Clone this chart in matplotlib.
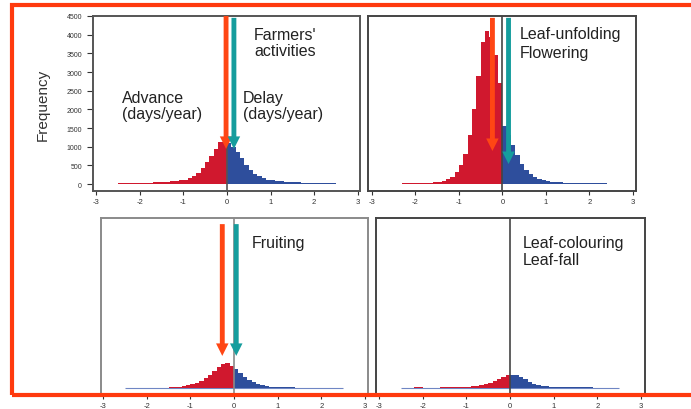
import numpy as np
import matplotlib
matplotlib.use("Agg")
import matplotlib.pyplot as plt
from matplotlib.patches import Rectangle

plt.rcParams['font.family'] = ['Liberation Sans', 'DejaVu Sans']

# bin centres (width 0.1) from -2.45 to 2.45
bin_centers = [round(-2.45 + 0.1 * i, 2) for i in range(50)]

farmers = [20, 25, 25, 30, 30, 35, 35, 40, 45, 50, 55, 60, 70, 80, 95, 120, 160, 220, 300, 420, 580, 760, 950, 1130, 1220,
           1100, 980, 860, 700, 520, 380, 280, 210, 160, 120, 95, 80, 70, 60, 55, 50, 45, 40, 40, 35, 35, 30, 30, 25, 20]
leaf_unfolding = [10, 10, 15, 15, 20, 20, 25, 30, 35, 45, 60, 90, 130, 200, 320, 500, 800, 1300, 2000, 2900, 3800, 4100, 3950, 3450, 2700,
                  1550, 1300, 1050, 780, 540, 370, 260, 180, 130, 100, 80, 65, 55, 45, 40, 35, 30, 28, 25, 22, 20, 18, 15, 15, 12]
fruiting = [0, 0, 0, 0, 10, 10, 0, 8, 10, 12, 15, 20, 30, 50, 70, 100, 140, 190, 260, 350, 450, 560, 630, 660, 600,
            500, 400, 300, 220, 160, 110, 80, 55, 40, 30, 25, 20, 18, 15, 12, 10, 0, 8, 8, 0, 0, 0, 0, 0, 0]
leaf_colouring = [0, 0, 0, 15, 15, 0, 0, 0, 0, 25, 25, 25, 30, 30, 35, 40, 50, 65, 85, 110, 140, 190, 240, 300, 340,
                  350, 340, 290, 230, 170, 120, 85, 60, 45, 35, 30, 25, 22, 20, 20, 18, 18, 15, 15, 0, 10, 10, 0, 0, 0]

# arrows: (x position, top y, tip y)
arrows_red = [(-0.02, 4500, 940), (-0.23, 4450, 885), (-0.27, 4390, 860), None]
arrows_teal = [(0.16, 4450, 940), (0.14, 4450, 535), (0.05, 4390, 860), None]

labels = ["Farmers'\nactivities", "Leaf-unfolding\nFlowering", "Fruiting", "Leaf-colouring\nLeaf-fall"]
yticks = [0, 500, 1000, 1500, 2000, 2500, 3000, 3500, 4000, 4500]
xticks = [-3, -2, -1, 0, 1, 2, 3]

RED = '#d0182e'
BLUE = '#2e4e9c'
ARROW_RED = '#ff4614'
ARROW_TEAL = '#159d9d'
BORDER = '#ff3a0e'

W, H = 691, 410
fig = plt.figure(figsize=(W / 100, H / 100), dpi=100)


def frac(l, t, r, b):
    return [l / W, 1 - b / H, (r - l) / W, (b - t) / H]


panels = [
    dict(rect=frac(93, 17, 360, 192), xlim=(-3.07, 3.05), ylim=(-187, 4500), frame='#555555',
         text_xy=(0.72, 0.935), ha='center', ls=1.05),
    dict(rect=frac(368, 17, 636, 192), xlim=(-3.09, 3.07), ylim=(-187, 4500), frame='#444444',
         text_xy=(0.565, 0.94), ha='left', ls=1.3),
    dict(rect=frac(101, 219, 368, 396), xlim=(-3.05, 3.07), ylim=(-187, 4554), frame='#8a8a8a',
         text_xy=(0.565, 0.905), ha='left', ls=1.2),
    dict(rect=frac(376, 219, 645, 396), xlim=(-3.07, 3.09), ylim=(-187, 4554), frame='#444444',
         text_xy=(0.545, 0.905), ha='left', ls=1.2),
]
data = [farmers, leaf_unfolding, fruiting, leaf_colouring]

for i, (p, counts) in enumerate(zip(panels, data)):
    ax = fig.add_axes(p['rect'])
    ax.set_xlim(*p['xlim'])
    ax.set_ylim(*p['ylim'])
    xc = np.array(bin_centers)
    cnt = np.array(counts)
    cols = [RED if c < 0 else BLUE for c in xc]
    if i >= 2:
        ax.hlines(0, -2.5, 2.5, color='#6f86c4', lw=0.8, zorder=1)
    ax.bar(xc, cnt, width=0.1, color=cols, edgecolor='none', zorder=2)
    ax.axvline(0, color=p['frame'], lw=1.2, zorder=3)
    for arr, col in ((arrows_red[i], ARROW_RED), (arrows_teal[i], ARROW_TEAL)):
        if arr is None:
            continue
        x, ytop, ytip = arr
        ax.annotate('', xy=(x, ytip), xytext=(x, ytop),
                    arrowprops=dict(arrowstyle='simple,head_length=0.9,head_width=0.9,tail_width=0.35',
                                    color=col, lw=0, shrinkA=0, shrinkB=0), zorder=5)
    ax.text(p['text_xy'][0], p['text_xy'][1], labels[i], transform=ax.transAxes,
            ha=p['ha'], va='top', multialignment=p['ha'], fontsize=11.5, color='#222222',
            linespacing=p['ls'])
    for s in ax.spines.values():
        s.set_color(p['frame'])
        s.set_linewidth(1.4)
    ax.set_xticks(xticks)
    ax.set_xticklabels([str(t) for t in xticks], fontsize=5.5, color='#333333')
    ax.tick_params(axis='x', direction='out', length=3, width=0.8, pad=2, colors='#333333')
    if i == 0:
        ax.set_yticks(yticks)
        ax.set_yticklabels([str(t) for t in yticks], fontsize=5, color='#333333')
        ax.tick_params(axis='y', direction='out', length=4, width=0.8, pad=4, colors='#333333')
        ax.set_ylabel('Frequency', fontsize=11, color='#333333', labelpad=12)
        ax.text(0.11, 0.575, 'Advance\n(days/year)', transform=ax.transAxes, ha='left', va='top',
                fontsize=11.5, color='#222222', linespacing=1.05)
        ax.text(0.56, 0.575, 'Delay\n(days/year)', transform=ax.transAxes, ha='left', va='top',
                fontsize=11.5, color='#222222', linespacing=1.05)
    else:
        ax.set_yticks([])
    ax.set_facecolor('white')

# orange-red border
border = Rectangle((12 / W, 1 - 396 / H), (W + 20) / W, (396 - 6) / H, transform=fig.transFigure,
                   fill=False, edgecolor=BORDER, lw=3, zorder=10, clip_on=False)
fig.add_artist(border)

fig.savefig('out.png', dpi=100, facecolor='white')
